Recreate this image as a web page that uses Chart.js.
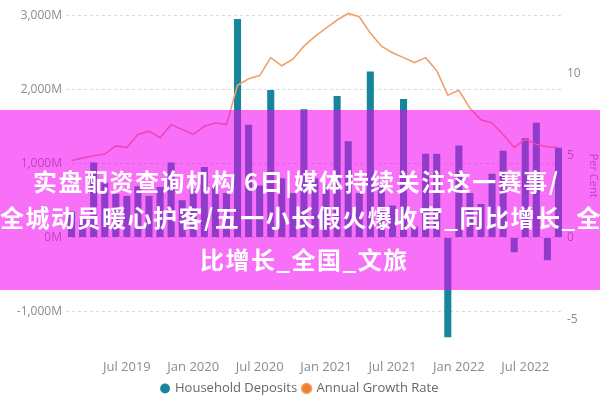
<!DOCTYPE html>
<html>
<head>
<meta charset="utf-8">
<script src="https://cdn.jsdelivr.net/npm/chart.js@4.4.1/dist/chart.umd.min.js"></script>
<style>
  html, body { margin: 0; padding: 0; background: #fff; }
  #wrap { position: relative; width: 600px; height: 400px; overflow: hidden; }
  #shade { position: absolute; left: 0; top: 110px; width: 600px; height: 180px; background: rgba(240, 0, 240, 0.56); }
  .cap { position: absolute; white-space: nowrap; color: #fff; font: bold 24px "Noto Sans CJK SC", sans-serif; line-height: 24px; letter-spacing: 1.5px; }
</style>
</head>
<body>
<div id="wrap">
  <canvas id="chart" width="600" height="400"></canvas>
  <div id="shade"></div>
  <div class="cap" style="left:33px; top:169px;">实盘配资查询机构 6日|媒体持续关注这一赛事/</div>
  <div class="cap" style="left:0px; top:205px;">全城动员暖心护客/五一小长假火爆收官_同比增长_全</div>
  <div class="cap" style="left:200px; top:247px;">比增长_全国_文旅</div>
</div>
<script>
// monthly, Feb 2019 .. Oct 2022
const months = [
  'Feb 2019', 'Mar 2019', 'Apr 2019', 'May 2019', 'Jun 2019', 'Jul 2019', 'Aug 2019', 'Sep 2019', 'Oct 2019', 'Nov 2019', 'Dec 2019',
  'Jan 2020', 'Feb 2020', 'Mar 2020', 'Apr 2020', 'May 2020', 'Jun 2020', 'Jul 2020', 'Aug 2020', 'Sep 2020', 'Oct 2020', 'Nov 2020', 'Dec 2020',
  'Jan 2021', 'Feb 2021', 'Mar 2021', 'Apr 2021', 'May 2021', 'Jun 2021', 'Jul 2021', 'Aug 2021', 'Sep 2021', 'Oct 2021', 'Nov 2021', 'Dec 2021',
  'Jan 2022', 'Feb 2022', 'Mar 2022', 'Apr 2022', 'May 2022', 'Jun 2022', 'Jul 2022', 'Aug 2022', 'Sep 2022', 'Oct 2022',
];

// household deposits, monthly change ($M)
const householdDeposits = [
  350, 250, 1010, 740, 590, 560, 690, 560, 680, 1010, 500,
  650, 950, 700, 600, 2950, 1520, 700, 1990, 800, 600, 1730, 800,
  700, 1910, 1300, 600, 2240, 700, 430, 1870, 150, 1130, 1130, -1350,
  1240, 600, 450, 860, 1170, -200, 1340, 1550, -310, 1210,
];

// annual growth rate (per cent)
const annualGrowthRate = [
  4.7, 4.85, 5.0, 5.1, 5.6, 5.5, 6.3, 6.5, 6.1, 6.9, 6.6,
  6.3, 6.8, 7.0, 6.9, 9.3, 9.7, 9.9, 11.0, 10.5, 10.9, 11.7, 12.3,
  12.8, 13.3, 13.7, 13.5, 12.5, 11.7, 11.3, 11.0, 10.7, 11.0, 10.2, 8.7,
  9.0, 7.9, 7.2, 7.0, 6.3, 5.5, 6.0, 5.7, 5.55, 5.5,
];

const depositTicks = [-1000, 0, 1000, 2000, 3000];
const rateTicks = [-5, 0, 5, 10];

const axisFont = { family: 'Open Sans', size: 12 };
const labelGrey = '#8c8c8c';

new Chart(document.getElementById('chart').getContext('2d'), {
  type: 'bar',
  data: {
    labels: months,
    datasets: [
      {
        type: 'line',
        label: 'Annual Growth Rate',
        data: annualGrowthRate,
        yAxisID: 'y1',
        borderColor: '#F0A06A',
        backgroundColor: '#F07F2A',
        borderWidth: 1.6,
        pointRadius: 0,
        tension: 0,
      },
      {
        label: 'Household Deposits',
        data: householdDeposits,
        yAxisID: 'y',
        backgroundColor: '#16879A',
        categoryPercentage: 0.8,
        barPercentage: 0.8,
      },
    ],
  },
  options: {
    responsive: false,
    animation: false,
    // negative bottom pad pushes the legend row down to where the original has it
    layout: { padding: { top: 10, bottom: -5 } },
    plugins: {
      legend: {
        position: 'bottom',
        labels: {
          usePointStyle: true,
          pointStyle: 'circle',
          boxWidth: 7,
          boxHeight: 7,
          padding: 6,
          color: '#666',
          font: { family: 'Open Sans', size: 13 },
          // bars first, like the original
          sort: (a, b) => b.datasetIndex - a.datasetIndex,
        },
      },
      tooltip: { enabled: false },
    },
    scales: {
      x: {
        grid: { display: false, drawTicks: false },
        border: { display: false },
        ticks: {
          autoSkip: false,
          maxRotation: 0,
          padding: 19,
          color: labelGrey,
          font: { family: 'Open Sans', size: 13 },
          callback(value, index) {
            const l = months[index];
            return /^(Jan|Jul)/.test(l) ? l : '';
          },
        },
        afterFit(scale) { scale.height = 36; },
      },
      y: {
        position: 'left',
        min: -1386,
        max: 3055,
        ticks: {
          padding: 4,
          color: labelGrey,
          font: axisFont,
          callback: v => v.toLocaleString('en-US') + 'M',
        },
        afterBuildTicks(scale) { scale.ticks = depositTicks.map(v => ({ value: v })); },
        grid: { color: '#d9d9d9', drawTicks: false },
        border: { display: false, dash: [3, 3] },
        afterFit(scale) { scale.width = 66; },
      },
      y1: {
        position: 'right',
        min: -6.28,
        max: 13.84,
        ticks: {
          padding: 3,
          color: labelGrey,
          font: axisFont,
        },
        afterBuildTicks(scale) { scale.ticks = rateTicks.map(v => ({ value: v })); },
        grid: { display: false, drawTicks: false },
        border: { display: false },
        title: { display: true, text: 'Per Cent', color: labelGrey, font: { family: 'Open Sans', size: 11 }, padding: 0 },
        afterFit(scale) { scale.width = 36; },
      },
    },
  },
});
</script>
</body>
</html>
